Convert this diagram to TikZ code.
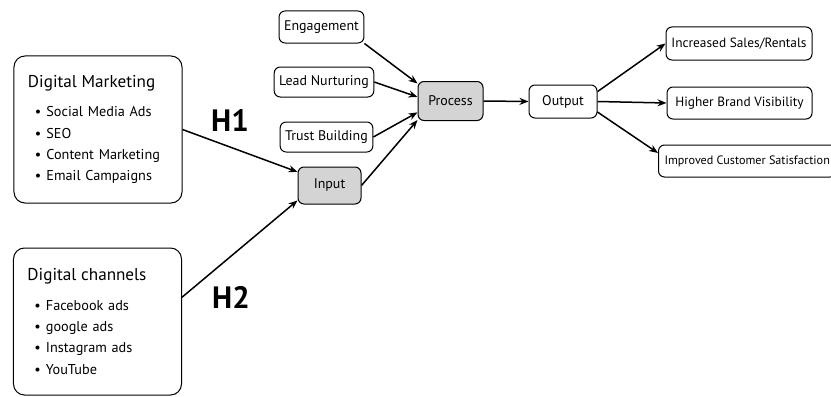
\documentclass[tikz,border=0pt]{standalone}
\usepackage{fontspec}
\setmainfont{PT Sans}
\usetikzlibrary{arrows.meta}
\newcommand{\itm}[1]{\hspace*{7bp}\textbullet\hspace{5bp}#1}
\begin{document}
\begin{tikzpicture}[x=1bp,y=1bp,
  box/.style={draw,line width=1bp,rounded corners=6bp,inner xsep=5bp,
    font=\fontsize{14}{16}\selectfont},
  grey/.style={box,fill=black!17},
  bigbox/.style={draw,line width=1bp,rounded corners=11bp,minimum width=168bp,
    minimum height=147bp,text width=140bp,align=left,inner xsep=14bp,
    font=\fontsize{14.3}{21.5}\selectfont},
  hyp/.style={font=\fontsize{31}{32}\selectfont\bfseries},
  arr/.style={-{Stealth[length=9bp,width=7bp]},line width=1.5bp}]
\useasboundingbox (0,0) rectangle (831,396);
% left side
\node[bigbox] (dm) at (98,266.5) {{\fontsize{17.2}{20}\selectfont Digital Marketing}\\[8bp]
  \itm{Social Media Ads}\\ \itm{SEO}\\ \itm{Content Marketing}\\ \itm{Email Campaigns}};
\node[bigbox] (dc) at (97.5,74.5) {{\fontsize{17.2}{20}\selectfont Digital channels}\\[8bp]
  \itm{Facebook ads}\\ \itm{google ads}\\ \itm{Instagram ads}\\ \itm{YouTube}};
\node[hyp] (h1) at (230,275) {H1};
\node[hyp] (h2) at (231,99) {H2};
% middle
\node[box,minimum height=32bp] (eng) at (321.5,369) {Engagement};
\node[box,minimum height=30bp] (lead) at (324,314) {Lead Nurturing};
\node[box,minimum height=30bp] (trust) at (326.5,259) {Trust Building};
\node[grey,minimum width=63bp,minimum height=37bp] (input) at (329.5,210.5) {Input};
\node[grey,minimum width=65bp,minimum height=39bp] (proc) at (450.5,295) {Process};
\node[box,minimum width=68bp,minimum height=33bp] (out) at (563,294.5) {Output};
% right side
\node[box,minimum width=146bp,minimum height=33bp,font=\fontsize{13.4}{15}\selectfont] (sales) at (739,352.5) {Increased Sales/Rentals};
\node[box,minimum width=145bp,minimum height=32bp,font=\fontsize{13.4}{15}\selectfont] (brand) at (739.5,293) {Higher Brand Visibility};
\node[box,anchor=west,minimum height=32bp,inner xsep=6bp,font=\fontsize{12.2}{14}\selectfont] (imp) at (658,235)
  {Improved Customer Satisfaction};
% arrows
\draw[arr] (dm.east) -- (input.157);
\draw[arr] (dc.16) -- (input.205);
\draw[arr] (input.east) -- (proc.210);
\draw[arr] (eng.south east) -- (proc.152);
\draw[arr] (lead.east) -- (proc.173);
\draw[arr] (trust.east) -- (proc.199);
\draw[arr] (proc.east) -- (out.west);
\draw[arr] (out.16) -- (sales.west);
\draw[arr] (out.east) -- (brand.west);
\draw[arr] (out.-17) -- ([yshift=8bp]imp.west);
\end{tikzpicture}
\end{document}
